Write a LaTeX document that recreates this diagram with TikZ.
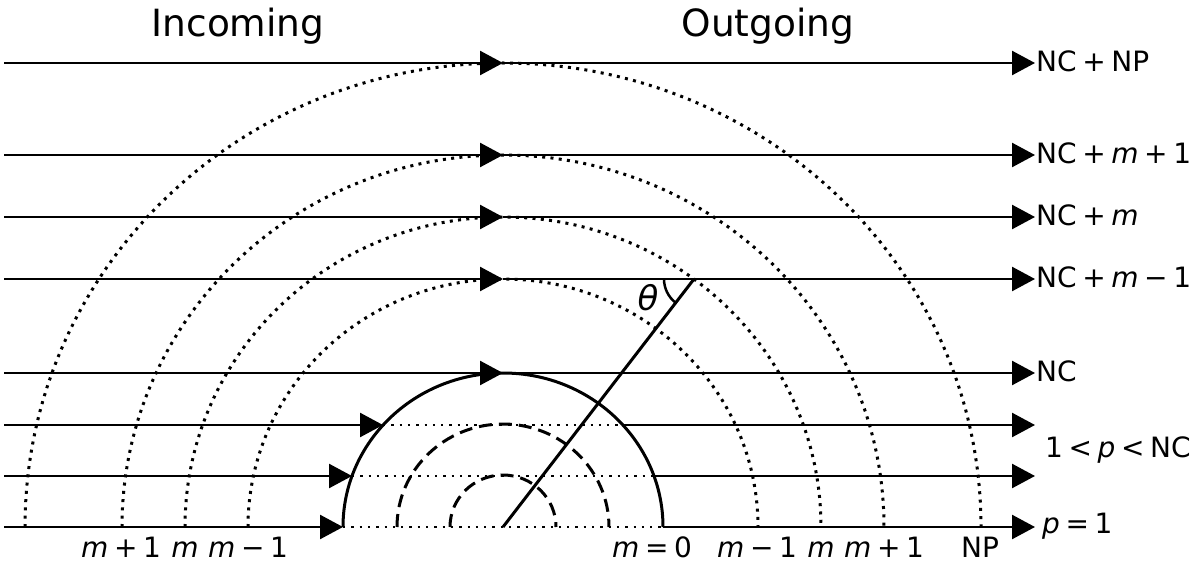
\documentclass[tikz,border=0pt]{standalone}
\usepackage{fontspec}
\setmainfont{DejaVu Sans}
\usetikzlibrary{arrows.meta}
\newcommand\vm{\textit{m}}
\newcommand\vp{\textit{p}}
\newcommand\bop[1]{\hspace{0.2em}#1\hspace{0.2em}}
\begin{document}
\begin{tikzpicture}[x=1pt,y=1pt,
  ln/.style={line width=2.5pt},
  tipend/.style={-{Triangle[length=23pt,width=24pt]}},
  dotarc/.style={line width=3pt,dash pattern=on 3pt off 5.3pt},
  dotseg/.style={line width=2.3pt,dash pattern=on 2.3pt off 6pt},
  dasharc/.style={line width=3pt,dash pattern=on 13pt off 7pt},
  solidarc/.style={line width=3pt},
  lbl/.style={inner sep=0pt,font=\fontsize{28}{32}\selectfont},
  ttl/.style={inner sep=0pt,font=\fontsize{37.5}{42}\selectfont}]
\useasboundingbox (0,0) rectangle (1200,566);
\coordinate (C) at (503,39);
% titles
\node[ttl,anchor=base] (tin) at (238,529) {Incoming};
\node[ttl,anchor=base] (tout) at (768,529) {Outgoing};
% dotted arcs
\draw[dotarc] (C) ++(-478,0) arc[start angle=180,end angle=0,x radius=478,y radius=464];
\draw[dotarc] (C) ++(-381,0) arc[start angle=180,end angle=0,x radius=381,y radius=372];
\draw[dotarc] (C) ++(-318,0) arc[start angle=180,end angle=0,x radius=318,y radius=310];
\draw[dotarc] (C) ++(-255,0) arc[start angle=180,end angle=0,x radius=255,y radius=248];
% solid arc and dashed arcs
\draw[solidarc] (C) ++(-160,0) arc[start angle=180,end angle=0,x radius=160,y radius=154];
\draw[dasharc] (C) ++(-106,0) arc[start angle=180,end angle=0,x radius=106,y radius=103];
\draw[dasharc] (C) ++(-53,0) arc[start angle=180,end angle=0,x radius=53,y radius=52];
% upper lines
\foreach \yy/\lab [count=\i] in {503/{NC\bop{+}NP},411/{NC\bop{+}\vm\bop{+}1},349/{NC\bop{+}\vm},287/{NC\bop{+}\vm\bop{−}1},193/{NC}} {
  \coordinate (a\i) at (4,\yy);
  \coordinate (b\i) at (503,\yy);
  \coordinate (c\i) at (1035,\yy);
  \draw[ln,tipend] (a\i) -- (b\i);
  \draw[ln,tipend] (b\i) -- (c\i);
  \node[lbl,anchor=base west] (t\i) at ([xshift=1pt,yshift=-8.5pt]c\i) {\lab};
}
% lower lines
\foreach \yy/\xl/\xr [count=\i] in {141/383/623,90/352/654,39/343/663} {
  \coordinate (la\i) at (4,\yy);
  \coordinate (lb\i) at (\xl,\yy);
  \coordinate (lc\i) at (\xr,\yy);
  \coordinate (ld\i) at (1035,\yy);
  \draw[ln,tipend] (la\i) -- (lb\i);
  \draw[dotseg] (lb\i) -- (lc\i);
  \draw[ln,tipend] (lc\i) -- (ld\i);
}
\node[lbl,anchor=base west] (lp) at (1045,109) {1\bop{<}\vp\bop{<}NC};
\node[lbl,anchor=base west] (lp1) at (1042,33) {\vp\bop{=}1};
% theta line
\coordinate (E) at (694,287);
\draw[solidarc] (C) -- (E);
\draw[line width=2.5pt] (E) ++(180:30) arc[start angle=180,end angle=232.4,radius=30];
\node[inner sep=0pt,font=\fontsize{34}{38}\selectfont,anchor=center] (th) at (648,268) {\textit{θ}};
% bottom labels
\foreach \xx/\lab [count=\i] in {121/{\vm\bop{+}1},185/{\vm},248/{\vm\bop{−}1},652/{\vm\bop{=}0},757/{\vm\bop{−}1},821/{\vm},884/{\vm\bop{+}1},980/{NP}} {
  \node[lbl,anchor=base] (bl\i) at (\xx,8.5) {\lab};
}
\end{tikzpicture}
\end{document}
